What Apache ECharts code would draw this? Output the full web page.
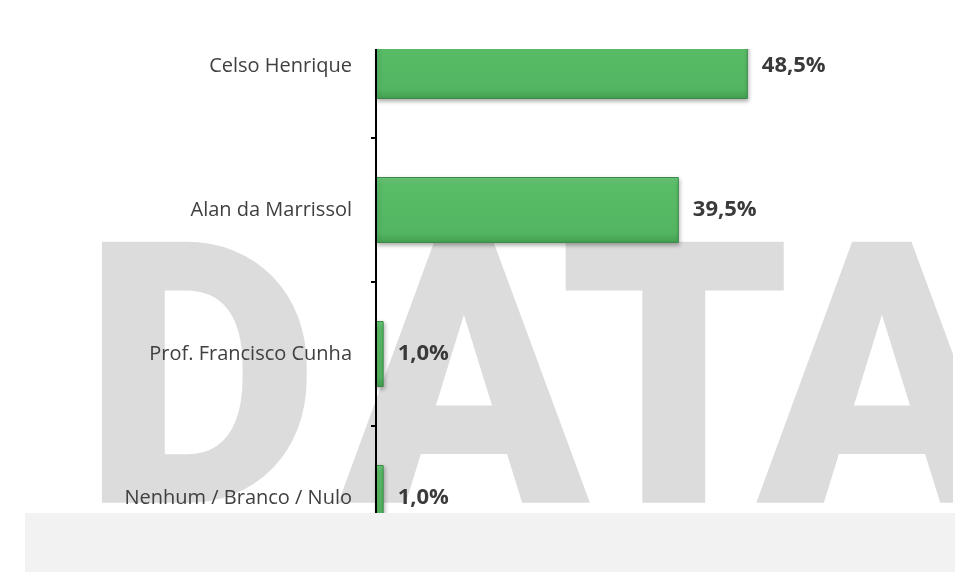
<!DOCTYPE html>
<html>
<head>
<meta charset="utf-8">
<script src="https://cdn.jsdelivr.net/npm/echarts@6/dist/echarts.min.js"></script>
<style>html,body{margin:0;padding:0;background:#fff}#c{width:980px;height:572px}</style>
</head>
<body>
<div id="c"></div>
<script>
const categories = ['Celso Henrique', 'Alan da Marrissol', 'Prof. Francisco Cunha', 'Nenhum / Branco / Nulo'];
const values = [48.5, 39.5, 1.0, 1.0];
const watermarkLetters = ['D', 'A', 'T', 'A'];

const chart = echarts.init(document.getElementById('c'), null, {renderer: 'canvas'});

const wmX = [82, 339, 559, 757];
const wmElems = watermarkLetters.map((ch, i) => ({
  type: 'text', z: 0, silent: true,
  x: wmX[i], y: 411,
  style: {
    text: ch, fill: '#dcdcdc',
    font: '900 367px Roboto, "DejaVu Sans", sans-serif',
    align: 'left', verticalAlign: 'middle'
  }
}));

chart.setOption({
  backgroundColor: '#ffffff',
  animation: false,
  grid: {left: 376, top: -6, height: 576, width: 460, containLabel: false, outerBoundsMode: 'none'},
  xAxis: {type: 'value', min: 0, max: 60, show: false},
  yAxis: {
    type: 'category', inverse: true, data: categories, z: 10,
    axisLine: {show: true, lineStyle: {color: '#000', width: 2}},
    axisTick: {show: true, length: 5, lineStyle: {color: '#000', width: 2}},
    axisLabel: {margin: 24, color: '#404040', fontSize: 20, fontFamily: '"Open Sans", sans-serif'},
    splitLine: {show: false}
  },
  series: [{
    type: 'bar', data: values, barWidth: 66, z: 5,
    itemStyle: {
      color: new echarts.graphic.LinearGradient(0, 0, 0, 1, [
        {offset: 0, color: '#6fcd7c'},
        {offset: 0.12, color: '#59bc67'},
        {offset: 0.85, color: '#53b561'},
        {offset: 1, color: '#449f51'}
      ]),
      borderColor: '#3b8b47', borderWidth: 1,
      shadowColor: 'rgba(0,0,0,0.3)', shadowBlur: 4, shadowOffsetX: 1, shadowOffsetY: 2
    },
    label: {
      show: true, position: 'right', distance: 14,
      color: '#3a3a3a', fontSize: 22, fontWeight: 'bold', fontFamily: '"Open Sans", sans-serif',
      formatter: p => p.value.toFixed(1).replace('.', ',') + '%'
    }
  }],
  graphic: wmElems.concat([
    {type: 'rect', z: 1, silent: true, shape: {x: 953, y: 200, width: 40, height: 320}, style: {fill: '#ffffff'}},
    {type: 'rect', z: 100, silent: true, shape: {x: 0, y: 0, width: 980, height: 49}, style: {fill: '#ffffff'}},
    {type: 'rect', z: 100, silent: true, shape: {x: 0, y: 513, width: 980, height: 59}, style: {fill: '#ffffff'}},
    {type: 'rect', z: 101, silent: true, shape: {x: 25, y: 513, width: 930, height: 59}, style: {fill: '#f2f2f2'}}
  ])
});
</script>
</body>
</html>
